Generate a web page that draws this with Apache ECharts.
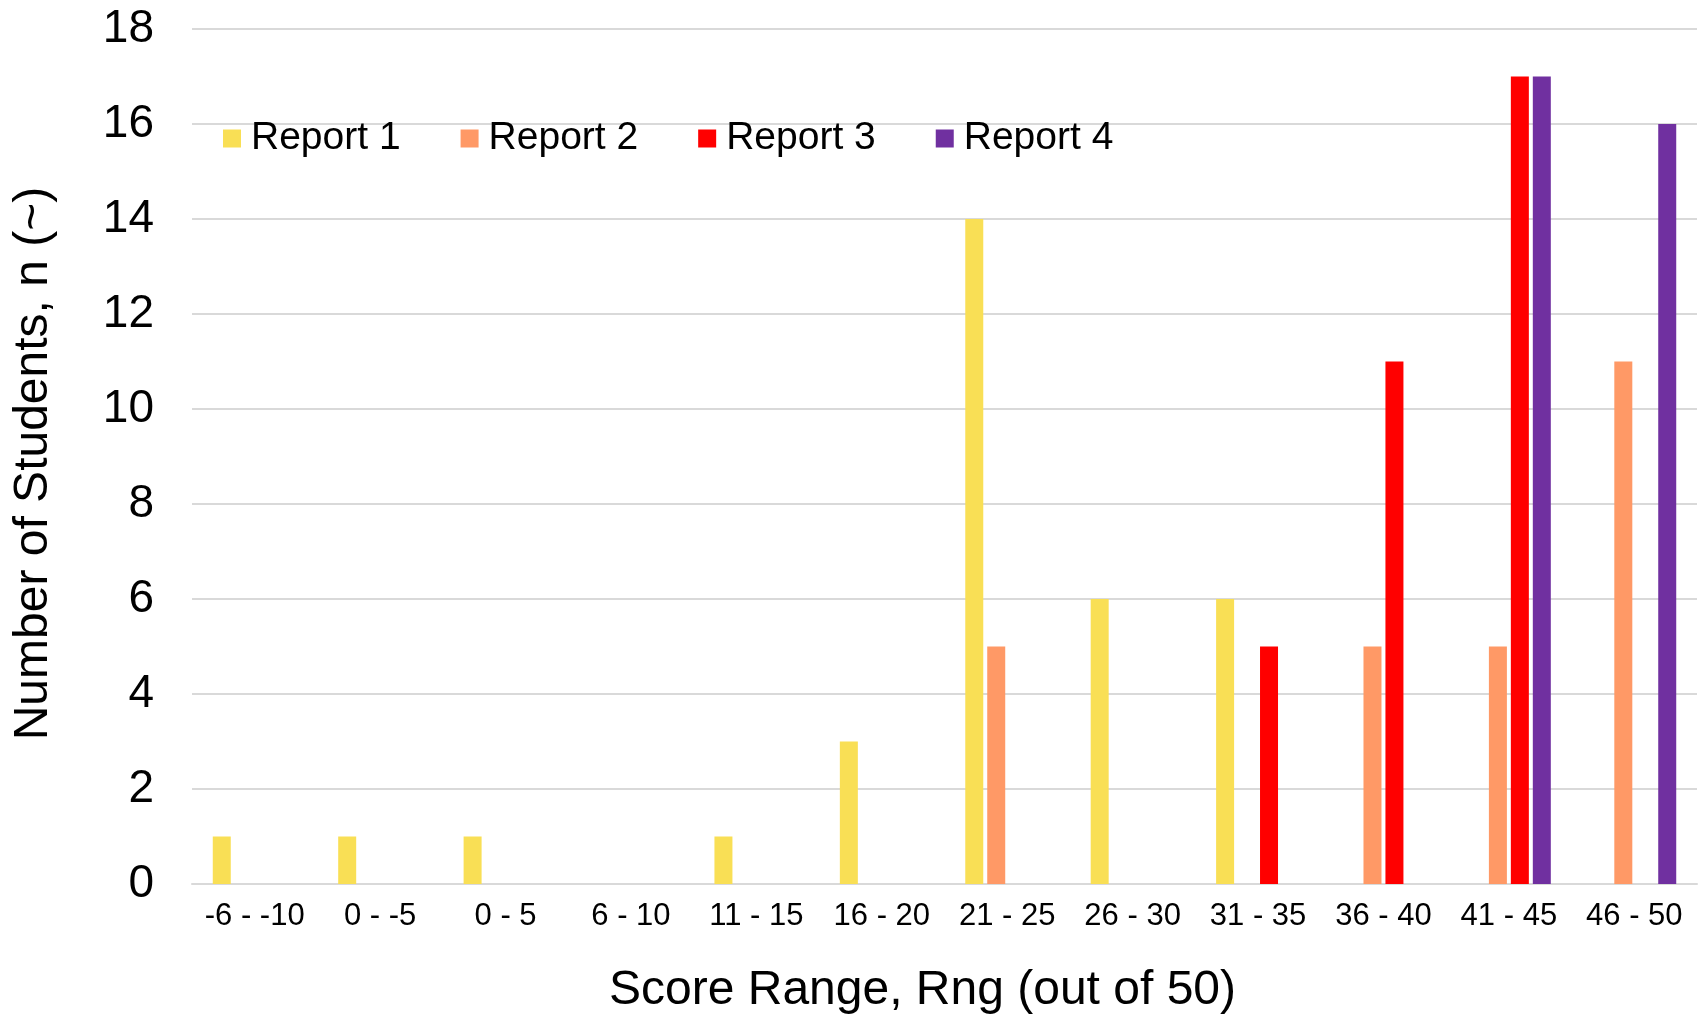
<!DOCTYPE html>
<html>
<head>
<meta charset="utf-8">
<script src="https://cdn.jsdelivr.net/npm/echarts@6/dist/echarts.min.js"></script>
<style>
  html, body { margin: 0; padding: 0; background: #ffffff; }
  #chart { width: 1704px; height: 1016px; }
</style>
</head>
<body>
<div id="chart"></div>
<script>
// Score ranges (out of 50)
const categories = ['-6 - -10', '0 - -5', '0 - 5', '6 - 10', '11 - 15', '16 - 20',
                    '21 - 25', '26 - 30', '31 - 35', '36 - 40', '41 - 45', '46 - 50'];

// Number of students per score range, one list per report
const report1 = [1, 1, 1, 0, 1, 3, 14, 6, 6, 0, 0, 0];
const report2 = [0, 0, 0, 0, 0, 0, 5, 0, 0, 5, 5, 11];
const report3 = [0, 0, 0, 0, 0, 0, 0, 0, 5, 11, 17, 0];
const report4 = [0, 0, 0, 0, 0, 0, 0, 0, 0, 0, 17, 16];

const seriesNames = ['Report 1', 'Report 2', 'Report 3', 'Report 4'];
const seriesColors = ['#F9DF55', '#FF9966', '#FF0000', '#7030A0'];
const seriesData = [report1, report2, report3, report4];

const FONT = '"Liberation Sans", Arial, Helvetica, sans-serif';

const chart = echarts.init(document.getElementById('chart'), null, { renderer: 'canvas' });

chart.setOption({
  backgroundColor: '#ffffff',
  animation: false,
  textStyle: { fontFamily: FONT, color: '#000000' },
  grid: {
    left: 192, right: 7, top: 29, bottom: 132,
    // keep the plot rectangle exactly where it is placed
    outerBoundsMode: 'none'
  },
  legend: {
    left: 218,
    top: 114,
    itemWidth: 18,
    itemHeight: 18,
    itemGap: 60,
    icon: 'rect',
    textStyle: { fontFamily: FONT, fontSize: 39, color: '#000000', padding: [0, 0, 0, 5] },
    data: seriesNames
  },
  xAxis: {
    type: 'category',
    data: categories,
    axisTick: { show: false },
    axisLine: { show: true, lineStyle: { color: '#d9d9d9', width: 2 } },
    axisLabel: { fontFamily: FONT, fontSize: 31, color: '#000000', margin: 17, interval: 0 },
    name: 'Score Range, Rng (out of 50)',
    nameLocation: 'middle',
    nameGap: 83,
    nameTextStyle: { fontFamily: FONT, fontSize: 48, color: '#000000', padding: [0, 44, 0, 0] }
  },
  yAxis: {
    type: 'value',
    min: 0,
    max: 18,
    interval: 2,
    axisLine: { show: false },
    axisTick: { show: false },
    splitLine: { show: true, lineStyle: { color: '#d9d9d9', width: 2 } },
    axisLabel: { fontFamily: FONT, fontSize: 46, color: '#000000', margin: 38 },
    name: 'Number of Students, n (~)',
    nameLocation: 'middle',
    nameRotate: 90,
    nameGap: 158,
    nameTextStyle: { fontFamily: FONT, fontSize: 48, color: '#000000', verticalAlign: 'middle', padding: [0, 14, 0, 0] }
  },
  series: seriesNames.map((name, i) => ({
    name: name,
    type: 'bar',
    data: seriesData[i],
    barWidth: 18,
    barGap: '22%',
    itemStyle: { color: seriesColors[i] }
  }))
});
</script>
</body>
</html>
